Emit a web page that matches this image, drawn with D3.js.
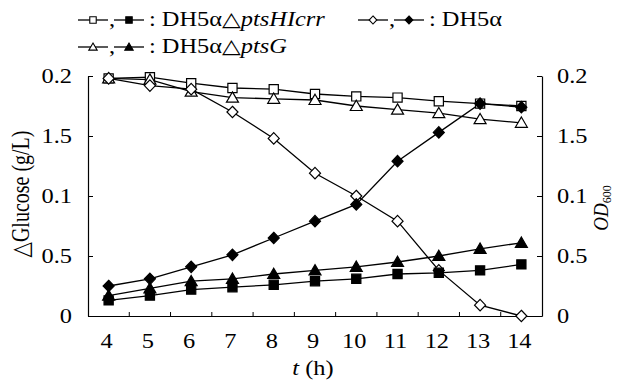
<!DOCTYPE html>
<html>
<head>
<meta charset="utf-8">
<script src="https://cdn.jsdelivr.net/npm/d3@7"></script>
<style>
  html, body { margin: 0; padding: 0; background: #fff; }
  svg text { font-family: 'Liberation Serif', 'Tinos', 'Times New Roman', 'DejaVu Serif', serif !important; }
</style>
</head>
<body>
<svg id="chart" width="617" height="384"></svg>
<script>
// ---- data ----
const hours = [4, 5, 6, 7, 8, 9, 10, 11, 12, 13, 14];
// open markers: glucose (left axis)
const glucHIcrr = [0.198, 0.199, 0.194, 0.190, 0.189, 0.185, 0.183, 0.182, 0.179, 0.177, 0.175];
const glucPtsG  = [0.198, 0.197, 0.187, 0.182, 0.181, 0.180, 0.175, 0.172, 0.169, 0.164, 0.161];
const glucWT    = [0.198, 0.192, 0.189, 0.170, 0.148, 0.119, 0.100, 0.079, 0.038, 0.009, 0.000];
// filled markers: OD600 (right axis)
const odHIcrr = [0.013, 0.017, 0.022, 0.024, 0.026, 0.029, 0.031, 0.035, 0.036, 0.038, 0.043];
const odPtsG  = [0.017, 0.023, 0.029, 0.031, 0.035, 0.038, 0.041, 0.045, 0.050, 0.056, 0.061];
const odWT    = [0.025, 0.031, 0.041, 0.051, 0.065, 0.079, 0.093, 0.129, 0.153, 0.177, 0.174];
// tick labels (as printed in the figure)
const yTickValues = [0, 0.05, 0.1, 0.15, 0.2];
const yLeftLabels = ["0", "0.5", "0.1", "1.5", "0.2"];
const yRightLabels = ["0", "0.5", "0.1", "1.5", "0.2"];

const svg = d3.select("#chart");
const FONT = 20;
const SX = 1.22; // horizontal glyph stretch seen in the figure
const pLeft = 88, pRight = 542, pTop = 76, pBottom = 316;

const x = d3.scaleBand().domain(hours).range([pLeft, pRight]).padding(0);
const yL = d3.scaleLinear().domain([0, 0.2]).range([pBottom, pTop]);
const yR = d3.scaleLinear().domain([0, 0.2]).range([pBottom, pTop]);
const cx = d => x(d) + x.bandwidth() / 2;

// ---- axes ----
const gL = svg.append("g").attr("transform", `translate(${pLeft},0)`)
  .call(d3.axisLeft(yL).tickValues(yTickValues).tickSizeInner(-5).tickSizeOuter(0).tickPadding(16)
    .tickFormat((d, i) => yLeftLabels[i]));
const gR = svg.append("g").attr("transform", `translate(${pRight},0)`)
  .call(d3.axisRight(yR).tickValues(yTickValues).tickSizeInner(-5).tickSizeOuter(0).tickPadding(15)
    .tickFormat((d, i) => yRightLabels[i]));
const gB = svg.append("g").attr("transform", `translate(0,${pBottom})`)
  .call(d3.axisBottom(x).tickSize(0).tickPadding(18));
gB.selectAll(".tick text").attr("dx", -2);
// category boundary ticks (inward)
gB.selectAll(".bt").data(hours.slice(1)).enter().append("line")
  .attr("x1", d => x(d)).attr("x2", d => x(d)).attr("y1", 0).attr("y2", -4)
  .attr("stroke", "#000").attr("stroke-width", 1);
[gL, gR, gB].forEach(g => {
  g.attr("font-family", null);
  g.selectAll("text").attr("font-size", FONT).attr("fill", "#000")
    .each(function () {
      const sel = d3.select(this);
      const ox = +(sel.attr("x") || 0);
      const odx = parseFloat(sel.attr("dx") || 0);
      sel.attr("x", ox / SX).attr("dx", odx / SX).attr("transform", `scale(${SX},1)`);
    });
  g.selectAll("path.domain").attr("stroke", "#000").attr("stroke-width", 1.2);
  g.selectAll(".tick line").attr("stroke", "#000").attr("stroke-width", 1);
});

// ---- markers ----
function shapePath(shape, r) {
  if (shape === "square") return `M${-r},${-r}H${r}V${r}H${-r}Z`;
  if (shape === "diamond") return `M0,${-r * 1.25}L${r * 1.2},0L0,${r * 1.25}L${-r * 1.2},0Z`;
  return `M0,${-r * 1.15}L${r * 1.2},${r * 0.9}L${-r * 1.2},${r * 0.9}Z`;
}
const markR = { square: 4.6, triangle: 5, diamond: 4.6 };

// ---- series ----
const series = [
  { vals: glucHIcrr, y: yL, shape: "square", fill: "#fff" },
  { vals: glucPtsG, y: yL, shape: "triangle", fill: "#fff" },
  { vals: glucWT, y: yL, shape: "diamond", fill: "#fff" },
  { vals: odHIcrr, y: yR, shape: "square", fill: "#000" },
  { vals: odPtsG, y: yR, shape: "triangle", fill: "#000" },
  { vals: odWT, y: yR, shape: "diamond", fill: "#000" }
];

const line = (ys) => d3.line().x((d, i) => cx(hours[i])).y(d => ys(d));
series.forEach(s => {
  svg.append("path").datum(s.vals).attr("d", line(s.y))
    .attr("fill", "none").attr("stroke", "#000").attr("stroke-width", 1.3);
});
series.forEach(s => {
  svg.append("g").selectAll("path").data(s.vals).enter().append("path")
    .attr("d", shapePath(s.shape, markR[s.shape]))
    .attr("transform", (d, i) => `translate(${cx(hours[i])},${s.y(d)})`)
    .attr("fill", s.fill).attr("stroke", "#000").attr("stroke-width", 1.2);
});

// ---- titles ----
svg.append("text").attr("transform", `translate(29,${(pTop + pBottom) / 2 - 2}) scale(${SX},1) rotate(-90)`)
  .attr("text-anchor", "middle").attr("font-size", FONT).text("△Glucose (g/L)");
const od = svg.append("text").attr("transform", `translate(608,${(pTop + pBottom) / 2 + 12}) scale(1.05,1) rotate(-90)`)
  .attr("text-anchor", "middle").attr("font-size", 19);
od.append("tspan").attr("font-style", "italic").text("OD");
od.append("tspan").attr("font-size", 12).attr("dy", 3).text("600");
const xt = svg.append("text").attr("transform", `translate(313,375) scale(${SX},1)`)
  .attr("text-anchor", "middle").attr("font-size", FONT);
xt.append("tspan").attr("font-style", "italic").text("t");
xt.append("tspan").text(" (h)");

// ---- legend ----
function legendMarker(x0, y0, shape, fill) {
  const g = svg.append("g");
  g.append("line").attr("x1", x0).attr("x2", x0 + 30).attr("y1", y0).attr("y2", y0)
    .attr("stroke", "#000").attr("stroke-width", 1.3);
  g.append("path").attr("d", shapePath(shape, markR[shape] * 0.7))
    .attr("transform", `translate(${x0 + 15},${y0})`)
    .attr("fill", fill).attr("stroke", "#000").attr("stroke-width", 1.1);
}
function legendEntry(x0, yBase, shape, parts) {
  const ym = yBase - 6;
  legendMarker(x0, ym, shape, "#fff");
  svg.append("text").attr("transform", `translate(${x0 + 31},${yBase}) scale(${SX},1)`)
    .attr("font-size", FONT).text(",");
  legendMarker(x0 + 36, ym, shape, "#000");
  const t = svg.append("text").attr("transform", `translate(${x0 + 71},${yBase}) scale(${SX},1)`)
    .attr("font-size", FONT);
  parts.forEach(p => t.append("tspan").attr("font-style", p[1] ? "italic" : "normal").text(p[0]));
}
legendEntry(78, 26, "square", [[": DH5α△", false], ["ptsHIcrr", true]]);
legendEntry(358, 26, "diamond", [[": DH5α", false]]);
legendEntry(78, 53, "triangle", [[": DH5α△", false], ["ptsG", true]]);
</script>
</body>
</html>
